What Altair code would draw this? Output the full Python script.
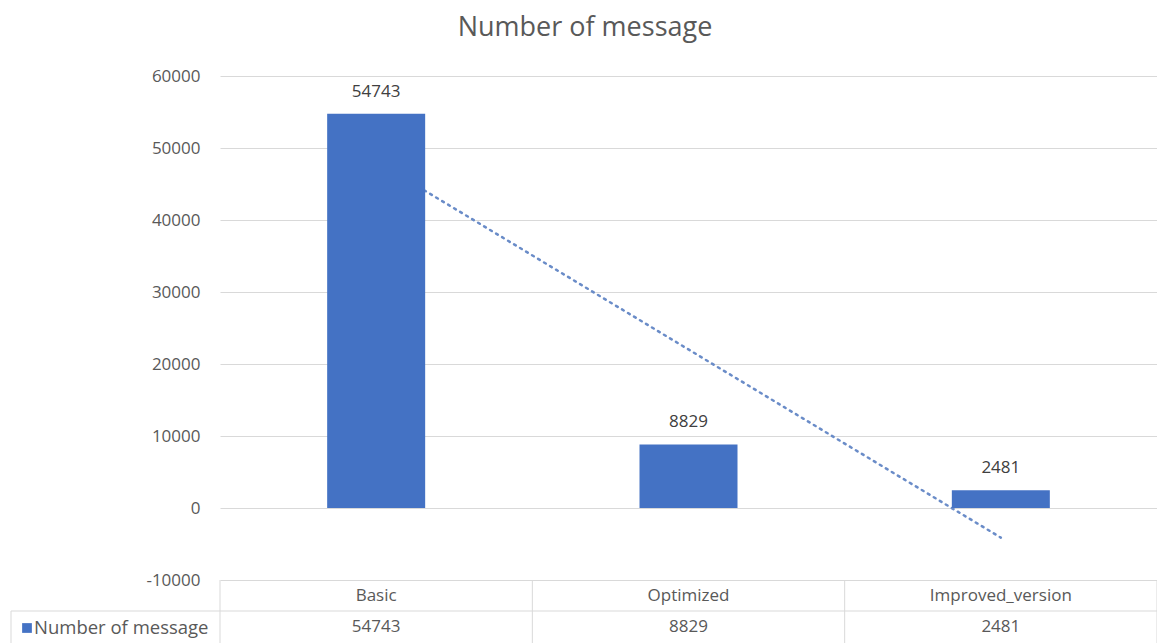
import altair as alt
import pandas as pd

categories = ["Basic", "Optimized", "Improved_version"]
values = [54743, 8829, 2481]
series_name = "Number of message"
chart_title = "Number of message"
y_ticks = [-10000, 0, 10000, 20000, 30000, 40000, 50000, 60000]
idx = [1, 2, 3]
table_edges = [0.5, 1.5, 2.5, 3.5]

FONT = "Open Sans"
GRAY = "#595959"
BLUE = "#4472c4"
LINE = "#d9d9d9"

W, H = 937, 504

df = pd.DataFrame({"category": categories, "value": values, "idx": idx})
edges = pd.DataFrame({"edge": table_edges})
legend_df = pd.DataFrame({"name": [series_name]})
title_df = pd.DataFrame({"title": [chart_title]})

xq = alt.Scale(domain=[0.5, 3.5])
yscale = alt.Scale(domain=[-10000, 60000], nice=False, zero=False)
xband = alt.Scale(paddingInner=0, paddingOuter=0)

yaxis = alt.Axis(values=y_ticks, grid=True, gridColor=LINE, gridWidth=1,
                 domain=False, ticks=False, labelPadding=20, labelFontSize=17,
                 labelColor=GRAY, labelFont=FONT, title=None,
                 labelExpr="'' + datum.value")

# trendline (behind bars)
trend = alt.Chart(df).transform_regression(
    "idx", "value", extent=[1, 3]
).mark_line(color="#6a8cc8", strokeWidth=2.5, strokeDash=[2, 5], strokeCap="round").encode(
    x=alt.X("idx:Q", scale=xq, axis=None),
    y=alt.Y("value:Q", scale=yscale, axis=yaxis),
)

bars = alt.Chart(df).mark_bar(color=BLUE, size=98).encode(
    x=alt.X("category:N", sort=categories, scale=xband,
            axis=alt.Axis(orient="bottom", title=None, ticks=False, domain=False, grid=False,
                          labelAngle=0, labelFontSize=17, labelColor=GRAY, labelFont=FONT,
                          labelPadding=7)),
    y=alt.Y("value:Q", scale=yscale, axis=yaxis),
)

labels = alt.Chart(df).mark_text(fontSize=17, font=FONT, color="#404040",
                                 baseline="alphabetic", dy=-17).encode(
    x=alt.X("category:N", sort=categories, scale=xband, axis=None),
    y=alt.Y("value:Q", scale=yscale, axis=yaxis),
    text=alt.Text("value:Q", format="d"),
)

row_values = alt.Chart(df).mark_text(fontSize=17, font=FONT, color=GRAY, baseline="middle").encode(
    x=alt.X("category:N", sort=categories, scale=xband, axis=None),
    y=alt.value(551),
    text=alt.Text("value:Q", format="d"),
)

# table vertical lines (header + data rows)
vlines = alt.Chart(edges).mark_rule(color=LINE, strokeWidth=1).encode(
    x=alt.X("edge:Q", scale=xq, axis=None),
    y=alt.value(504),
    y2=alt.value(H + 70),
)
hline = alt.Chart(legend_df).mark_rule(color=LINE, strokeWidth=1).encode(
    x=alt.value(-209), x2=alt.value(W), y=alt.value(535),
)
left_v = alt.Chart(legend_df).mark_rule(color=LINE, strokeWidth=1).encode(
    x=alt.value(-209), y=alt.value(535), y2=alt.value(H + 70),
)
legend_sq = alt.Chart(legend_df).mark_square(color=BLUE, size=95, opacity=1).encode(
    x=alt.value(-193), y=alt.value(552),
)
legend_tx = alt.Chart(legend_df).mark_text(fontSize=18.5, font=FONT, color=GRAY,
                                          align="left", baseline="middle").encode(
    x=alt.value(-186), y=alt.value(552), text="name:N",
)
title = alt.Chart(title_df).mark_text(fontSize=27, font=FONT, color=GRAY,
                                      align="center", baseline="alphabetic").encode(
    x=alt.value(585 - 220), y=alt.value(36 - 76), text="title:N",
)

chart = alt.layer(
    trend, vlines, bars, labels, row_values, hline, left_v, legend_sq, legend_tx, title
).resolve_scale(x="independent").properties(
    width=W, height=H,
    padding={"left": 220, "top": 76, "right": 0, "bottom": 63},
    autosize="none",
    background="white",
).configure_view(stroke="transparent", strokeWidth=0).configure_axis(domain=False)

chart.save("out.html", embed_options={"renderer": "svg", "actions": False})
